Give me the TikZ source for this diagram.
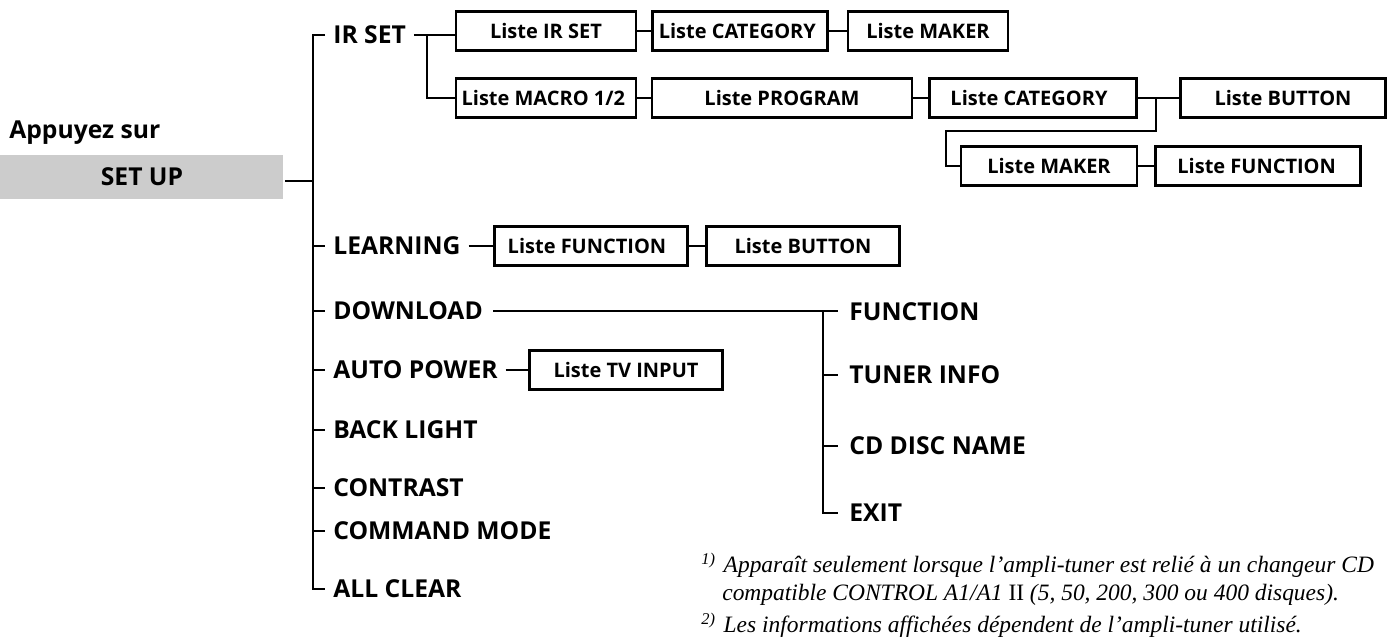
\documentclass[tikz,border=0pt]{standalone}
\usepackage{fontspec}
\setmainfont{Open Sans}
\newfontfamily\fnfont{Liberation Serif}
\begin{document}
\begin{tikzpicture}[x=0.75pt,y=-0.75pt,line width=2pt,
  lab/.style={anchor=west,font=\bfseries\fontsize{18.5}{18.5}\selectfont,inner sep=0pt},
  box/.style={draw,line width=2.2pt,minimum height=29pt,font=\bfseries\fontsize{15}{15}\selectfont,inner sep=0pt},
  fn/.style={anchor=west,font=\fnfont\itshape\fontsize{17.6}{17.6}\selectfont,inner sep=0pt}]
\useasboundingbox (0,0) rectangle (1393,640);
% left
\node[lab,anchor=west] (app) at (8,133) {Appuyez sur};
\fill[gray!40] (0,155) rectangle (283,199);
\node[font=\bfseries\fontsize{18.5}{18.5}\selectfont] (su) at (142,177) {SET UP};
\coordinate (suR) at (285,181);
\coordinate (trunk) at (313,181);
\draw (suR) -- (trunk);
\draw (325,35) -- (313,35) -- (313,589) -- (325,589);
% level 1 labels
\foreach \n/\t/\y in {irset/IR SET/35,learn/LEARNING/246,down/DOWNLOAD/311,auto/AUTO POWER/370,back/BACK LIGHT/430,contr/CONTRAST/488,cmd/COMMAND MODE/531,allc/ALL CLEAR/589}{
  \node[lab] (\n) at (332,\y) {\t};
  \draw (313,\y) -- (325,\y);
}
% IR SET boxes
\node[box,minimum width=135pt] (b1) at (546,31) {Liste IR SET};
\node[box,minimum width=131pt] (b2) at (740,31) {\hspace{-4pt}Liste CATEGORY};
\node[box,minimum width=120pt] (b3) at (928,31) {Liste MAKER};
\node[box,minimum width=135pt] (c1) at (546,98) {\hspace{-4pt}Liste MACRO 1/2};
\node[box,minimum width=195pt] (c2) at (782,98) {Liste PROGRAM};
\node[box,minimum width=155pt] (c3) at (1033,98) {\hspace{-6pt}Liste CATEGORY};
\node[box,minimum width=154pt] (c4) at (1283,98) {Liste BUTTON};
\node[box,minimum width=132pt] (d1) at (1049,166) {Liste MAKER};
\node[box,minimum width=154pt] (d2) at (1258,166) {\hspace{-2pt}Liste FUNCTION};
\coordinate (irJ) at (427,35);
\draw (irset.east) ++(5pt,0) -- (irJ) -- (b1.west |- irJ);
\draw (irJ) -- (427,98) -- (c1.west);
\draw (b1.east) -- (b2.west);
\draw (b2.east) -- (b3.west);
\draw (c1.east) -- (c2.west);
\draw (c2.east) -- (c3.west);
\draw (c3.east) -- (c4.west);
\draw (1156,98) -- (1156,131) -- (946,131) -- (946,166) -- (d1.west);
\draw (d1.east) -- (d2.west);
% LEARNING
\node[box,minimum width=145pt] (l1) at (591,246) {\hspace{-6pt}Liste FUNCTION};
\node[box,minimum width=145pt] (l2) at (803,246) {Liste BUTTON};
\draw (learn.east) ++(5pt,0) -- (l1.west);
\draw (l1.east) -- (l2.west);
% AUTO POWER
\node[box,minimum width=145pt] (a1) at (626,370) {Liste TV INPUT};
\draw (auto.east) ++(5pt,0) -- (a1.west);
% DOWNLOAD
\node[lab] (f1) at (848,312) {FUNCTION};
\node[lab] (f2) at (848,375) {TUNER INFO};
\node[lab] (f3) at (848,446) {CD DISC NAME};
\node[lab] (f4) at (848,513) {EXIT};
\draw (down.east) ++(7pt,0) -- (838,311);
\draw (823,311) -- (823,513) -- (838,513);
\draw (823,375) -- (838,375);
\draw (823,446) -- (838,446);
% footnotes
\node[fn] (n1) at (700,565) {\textsuperscript{1)}\hspace{6pt}Apparaît seulement lorsque l’ampli-tuner est relié à un changeur CD};
\node[fn] (n2) at (721,595) {compatible CONTROL A1/A1 {\upshape II} (5, 50, 200, 300 ou 400 disques).};
\node[fn] (n3) at (700,625) {\textsuperscript{2)}\hspace{6pt}Les informations affichées dépendent de l’ampli-tuner utilisé.};
\end{tikzpicture}
\end{document}
